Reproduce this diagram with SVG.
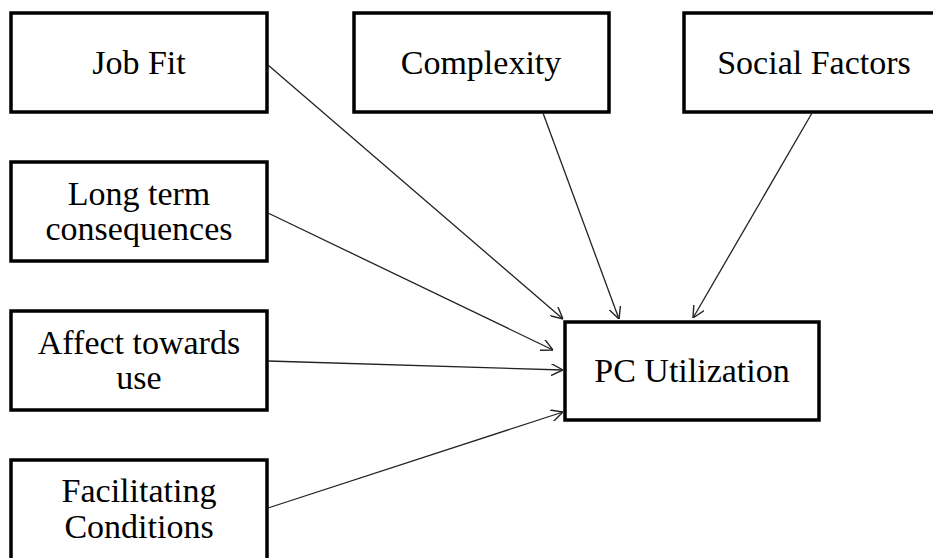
<svg xmlns="http://www.w3.org/2000/svg" width="933" height="558" viewBox="0 0 933 558">
  <style>
    .box { fill: #ffffff; stroke: #000000; stroke-width: 3.5; }
    .label { font-family: "Liberation Serif", "Times New Roman", serif; font-size: 34px; fill: #000000; text-anchor: middle; }
    .edge { fill: none; stroke: #222222; stroke-width: 1.3; marker-end: url(#arrow); }
  </style>
  <defs>
    <marker id="arrow" viewBox="0 0 12 12" refX="12" refY="6" markerWidth="12" markerHeight="12" markerUnits="userSpaceOnUse" orient="auto">
      <path d="M0,0 L12,6 L0,12" fill="none" stroke="#222222" stroke-width="1.4"/>
    </marker>
  </defs>
  <rect width="933" height="558" fill="#ffffff"/>

  <g id="job-fit">
    <rect class="box" x="11" y="13" width="256" height="99"/>
    <text class="label" x="139" y="74">Job Fit</text>
  </g>

  <g id="complexity">
    <rect class="box" x="354" y="13" width="255" height="99"/>
    <text class="label" x="481" y="74">Complexity</text>
  </g>

  <g id="social-factors">
    <rect class="box" x="684" y="13" width="261" height="99"/>
    <text class="label" x="814" y="74">Social Factors</text>
  </g>

  <g id="long-term-consequences">
    <rect class="box" x="11" y="162" width="256" height="99"/>
    <text class="label" x="139" y="205">Long term</text>
    <text class="label" x="139" y="240">consequences</text>
  </g>

  <g id="affect-towards-use">
    <rect class="box" x="11" y="311" width="256" height="99"/>
    <text class="label" x="139" y="354">Affect towards</text>
    <text class="label" x="139" y="389">use</text>
  </g>

  <g id="facilitating-conditions">
    <rect class="box" x="11" y="460" width="256" height="100"/>
    <text class="label" x="139" y="502">Facilitating</text>
    <text class="label" x="139" y="538">Conditions</text>
  </g>

  <g id="pc-utilization">
    <rect class="box" x="565" y="322" width="254" height="98"/>
    <text class="label" x="692" y="382">PC Utilization</text>
  </g>

  <g id="connectors">
    <line class="edge" x1="268" y1="65" x2="563" y2="319"/>
    <line class="edge" x1="268" y1="213" x2="553" y2="350"/>
    <line class="edge" x1="268" y1="361" x2="563" y2="370"/>
    <line class="edge" x1="268" y1="508" x2="563" y2="412"/>
    <line class="edge" x1="543" y1="113" x2="619" y2="319"/>
    <line class="edge" x1="812" y1="113" x2="693" y2="318"/>
  </g>
</svg>
